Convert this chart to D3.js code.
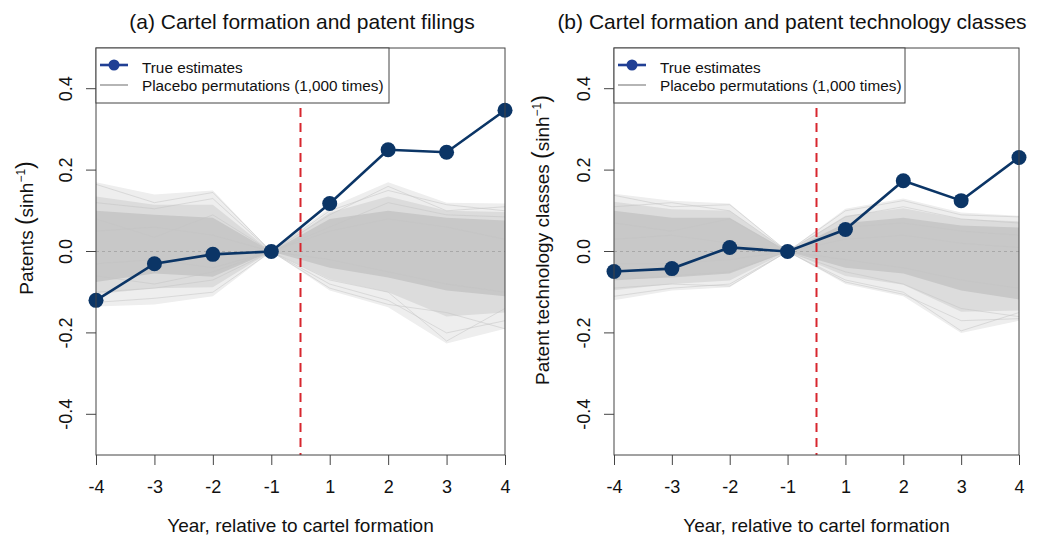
<!DOCTYPE html>
<html><head><meta charset="utf-8">
<script src="https://cdn.jsdelivr.net/npm/d3@7"></script>
<style>
html,body{margin:0;padding:0;background:#fff;}
svg{display:block;font-family:"Liberation Sans",Arial,Helvetica,sans-serif;}
</style></head>
<body><svg id="c" width="1048" height="536"></svg>
<script>
// ---------- data ----------
const years = ["-4","-3","-2","-1","1","2","3","4"];
const yTicks = [-0.4,-0.2,0.0,0.2,0.4];
const yTickLabels = ["-0.4","-0.2","0.0","0.2","0.4"];

const titles = ["(a) Cartel formation and patent filings", "(b) Cartel formation and patent technology classes"];
const yLabels = ["Patents ", "Patent technology classes "];
const xLabel = "Year, relative to cartel formation";
const legendLabels = ["True estimates", "Placebo permutations (1,000 times)"];

// true estimates
const trueA = [-0.120, -0.030, -0.007, 0.000, 0.118, 0.250, 0.244, 0.347];
const trueB = [-0.049, -0.042, 0.010, 0.000, 0.054, 0.174, 0.125, 0.231];

// placebo distribution envelopes (outer / middle / core)
const outerHiA = [0.170, 0.140, 0.150, 0, 0.108, 0.170, 0.120, 0.118];
const midHiA   = [0.135, 0.115, 0.115, 0, 0.095, 0.135, 0.100, 0.097];
const coreHiA  = [0.100, 0.090, 0.083, 0, 0.080, 0.100, 0.083, 0.076];
const coreLoA  = [-0.075,-0.054,-0.062, 0, -0.040,-0.064,-0.096,-0.110];
const midLoA   = [-0.105,-0.090,-0.088, 0, -0.068,-0.100,-0.160,-0.150];
const outerLoA = [-0.135,-0.130,-0.110, 0, -0.096,-0.137,-0.226,-0.190];

const outerHiB = [0.142, 0.125, 0.118, 0, 0.105, 0.130, 0.096, 0.088];
const midHiB   = [0.122, 0.104, 0.100, 0, 0.088, 0.106, 0.080, 0.074];
const coreHiB  = [0.100, 0.083, 0.083, 0, 0.070, 0.083, 0.064, 0.059];
const coreLoB  = [-0.070,-0.064,-0.054, 0, -0.040,-0.054,-0.096,-0.118];
const midLoB   = [-0.095,-0.080,-0.071, 0, -0.060,-0.082,-0.148,-0.145];
const outerLoB = [-0.120,-0.096,-0.088, 0, -0.080,-0.110,-0.200,-0.170];

// a few individual placebo paths (hand-read edge lines) for texture
const sampleA = [
  [0.165, 0.120, 0.145, 0, 0.090, 0.160, 0.100, 0.110],
  [0.120, 0.105, 0.130, 0, 0.100, 0.150, 0.115, 0.100],
  [0.080, 0.035, 0.090, 0, 0.060, 0.120, 0.090, 0.085],
  [0.050, 0.060, 0.040, 0, 0.050, 0.080, 0.060, 0.030],
  [-0.030,-0.020,-0.040, 0, -0.020,-0.050,-0.080,-0.100],
  [-0.060,-0.080,-0.050, 0, -0.090,-0.130,-0.150,-0.190],
  [-0.100,-0.090,-0.070, 0, -0.070,-0.100,-0.220,-0.140],
  [-0.125,-0.115,-0.100, 0, -0.080,-0.120,-0.200,-0.170]
];
const sampleB = [
  [0.138, 0.110, 0.115, 0, 0.100, 0.125, 0.090, 0.085],
  [0.110, 0.120, 0.100, 0, 0.085, 0.110, 0.080, 0.070],
  [0.070, 0.050, 0.080, 0, 0.060, 0.070, 0.050, 0.040],
  [0.030, 0.040, 0.020, 0, 0.030, 0.040, 0.020, 0.010],
  [-0.030,-0.030,-0.020, 0, -0.020,-0.040,-0.070,-0.090],
  [-0.070,-0.060,-0.050, 0, -0.050,-0.080,-0.140,-0.160],
  [-0.110,-0.090,-0.080, 0, -0.070,-0.100,-0.195,-0.150],
  [-0.090,-0.080,-0.085, 0, -0.075,-0.105,-0.170,-0.165]
];

// ---------- drawing ----------
(function(){
const svg = d3.select("#c");
const FONT = "Liberation Sans, Arial, Helvetica, sans-serif";

const panels = [
  {x0:96, x1:505, title:titles[0], tx:302, ylab:yLabels[0], ylx:33, yly:228, tru:trueA,
   bands:[outerHiA,midHiA,coreHiA,coreLoA,midLoA,outerLoA], samples:sampleA, legW:293},
  {x0:614, x1:1019, title:titles[1], tx:792, ylab:yLabels[1], ylx:549, yly:240, tru:trueB,
   bands:[outerHiB,midHiB,coreHiB,coreLoB,midLoB,outerLoB], samples:sampleB, legW:291}
];

const pTop = 48, pBottom = 455;

panels.forEach((p, pi) => {
  const x = d3.scalePoint().domain(years).range([p.x0, p.x1]);
  const y = d3.scaleLinear().domain([-0.5, 0.5]).range([pBottom, pTop]);
  const g = svg.append("g");

  const clipId = "clip" + pi;
  svg.append("clipPath").attr("id", clipId).append("rect")
    .attr("x", p.x0).attr("y", pTop).attr("width", p.x1 - p.x0).attr("height", pBottom - pTop);
  const plot = g.append("g").attr("clip-path", `url(#${clipId})`);

  // bands
  const area = (hi, lo) => d3.area()
    .x((d, i) => x(years[i]))
    .y0((d, i) => y(lo[i]))
    .y1((d, i) => y(hi[i]))
    .curve(d3.curveLinear)(years);
  const [oH, mH, cH, cL, mL, oL] = p.bands;
  plot.append("path").attr("d", area(oH, oL)).attr("fill", "#eeeeee");
  plot.append("path").attr("d", area(mH, mL)).attr("fill", "#dcdcdc");
  plot.append("path").attr("d", area(cH, cL)).attr("fill", "#c8c8c8");

  const line = d3.line().x((d, i) => x(years[i])).y(d => y(d));
  p.samples.forEach(s => {
    plot.append("path").attr("d", line(s)).attr("fill", "none")
      .attr("stroke", "#c4c4c4").attr("stroke-opacity", 0.5).attr("stroke-width", 1);
  });

  // zero reference line
  plot.append("line").attr("x1", p.x0).attr("x2", p.x1).attr("y1", y(0)).attr("y2", y(0))
    .attr("stroke", "#a8a8a8").attr("stroke-width", 1).attr("stroke-dasharray", "3,3");

  // red dashed vertical line between -1 and 1
  const xv = (x("-1") + x("1")) / 2;
  g.append("line").attr("x1", xv).attr("x2", xv).attr("y1", pTop).attr("y2", pBottom)
    .attr("stroke", "#d7262e").attr("stroke-width", 2).attr("stroke-dasharray", "9,6");

  // true estimates
  g.append("path").attr("d", line(p.tru)).attr("fill", "none")
    .attr("stroke", "#0b3566").attr("stroke-width", 2.6);
  g.selectAll(null).data(p.tru).enter().append("circle")
    .attr("cx", (d, i) => x(years[i])).attr("cy", d => y(d)).attr("r", 7.5)
    .attr("fill", "#0b3566");

  // box
  g.append("rect").attr("x", p.x0).attr("y", pTop).attr("width", p.x1 - p.x0).attr("height", pBottom - pTop)
    .attr("fill", "none").attr("stroke", "#444").attr("stroke-width", 1);

  // x axis
  const xa = g.append("g").attr("transform", `translate(0,${pBottom})`)
    .call(d3.axisBottom(x).tickSize(10).tickPadding(15));
  xa.select(".domain").remove();
  xa.selectAll("line").attr("stroke", "#444");
  xa.selectAll("text").attr("font-size", 18).attr("font-family", FONT).attr("fill", "#111");

  // y axis
  const ya = g.append("g").attr("transform", `translate(${p.x0},0)`)
    .call(d3.axisLeft(y).tickValues(yTicks).tickSize(10).tickFormat((d, i) => yTickLabels[i]));
  ya.select(".domain").remove();
  ya.selectAll("line").attr("stroke", "#444");
  ya.selectAll(".tick").attr("transform", d => `translate(0,${y(d)})`);
  ya.selectAll("text").attr("font-size", 18).attr("font-family", FONT).attr("fill", "#111")
    .attr("text-anchor", "middle").attr("x", 0).attr("y", 0).attr("dy", 0)
    .attr("transform", "translate(-24,0) rotate(-90)");

  // title
  svg.append("text").attr("x", p.tx).attr("y", 29).attr("text-anchor", "middle")
    .attr("font-size", 21).attr("font-family", FONT).attr("fill", "#111").text(p.title);

  // x label
  svg.append("text").attr("x", (p.x0 + p.x1) / 2).attr("y", 532).attr("text-anchor", "middle")
    .attr("font-size", 19).attr("font-family", FONT).attr("fill", "#111").text(xLabel);

  // y label with superscript
  const yl = svg.append("text").attr("transform", `translate(${p.ylx},${p.yly}) rotate(-90)`)
    .attr("text-anchor", "middle").attr("font-size", 19).attr("font-family", FONT).attr("fill", "#111");
  yl.append("tspan").text(p.ylab);
  yl.append("tspan").attr("font-size", 23).text("(");
  yl.append("tspan").text("sinh");
  yl.append("tspan").attr("font-size", 12).attr("dy", -8).text("\u22121");
  yl.append("tspan").attr("font-size", 23).attr("dy", 8).text(")");

  // legend
  const lg = svg.append("g").attr("transform", `translate(${p.x0},${pTop})`);
  lg.append("rect").attr("x", 0).attr("y", 0).attr("width", p.legW).attr("height", 55)
    .attr("fill", "#fff").attr("stroke", "#444").attr("stroke-width", 1);
  lg.append("line").attr("x1", 4).attr("x2", 32).attr("y1", 17).attr("y2", 17)
    .attr("stroke", "#203f94").attr("stroke-width", 2.6);
  lg.append("circle").attr("cx", 18).attr("cy", 17).attr("r", 5.5).attr("fill", "#203f94");
  lg.append("line").attr("x1", 4).attr("x2", 32).attr("y1", 37).attr("y2", 37)
    .attr("stroke", "#b5b5b5").attr("stroke-width", 2);
  lg.append("text").attr("x", 46).attr("y", 25).attr("font-size", 15.3).attr("font-family", FONT)
    .attr("fill", "#111").text(legendLabels[0]);
  lg.append("text").attr("x", 46).attr("y", 43).attr("font-size", 15.3).attr("font-family", FONT)
    .attr("fill", "#111").text(legendLabels[1]);
});
})();
</script>
</body></html>
